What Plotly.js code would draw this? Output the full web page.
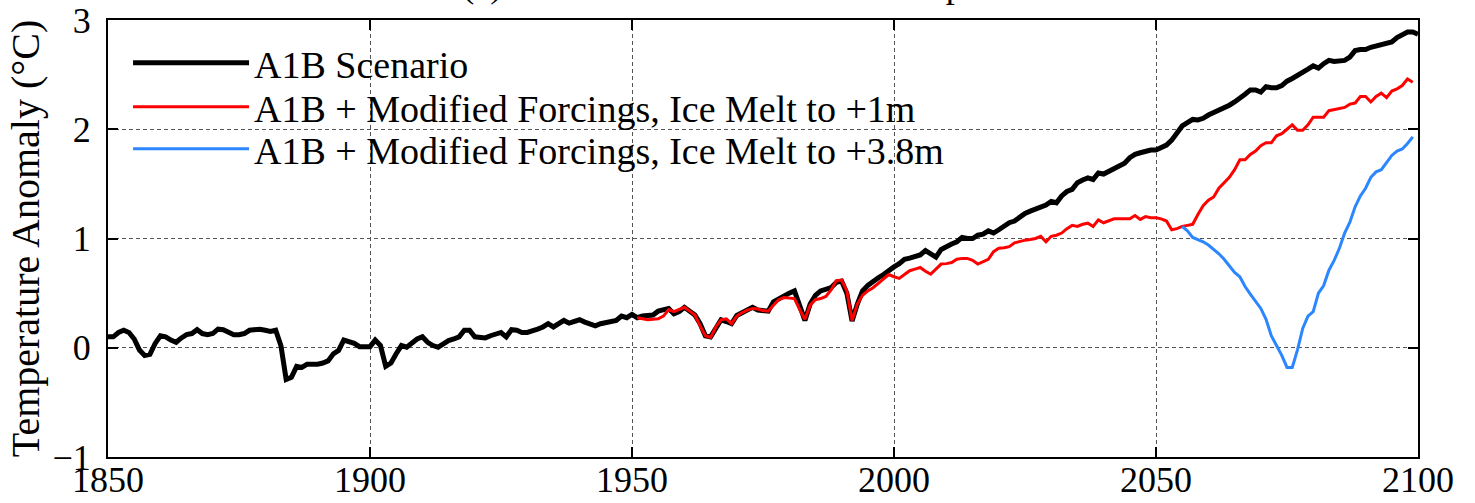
<!DOCTYPE html>
<html>
<head>
<meta charset="utf-8">
<script src="https://cdn.plot.ly/plotly-3.0.1.min.js"></script>
<style>html,body{margin:0;padding:0;background:#fff;}#chart{width:1475px;height:503px;}</style>
</head>
<body>
<div id="chart"></div>
<script>
// ---- data ----
const blackStart = 1850;
const blackValues = [
  0.10,0.10,0.14,0.16,0.14,0.08,-0.02,-0.07,-0.06,0.04,
  0.11,0.10,0.07,0.05,0.09,0.12,0.13,0.165,0.13,0.12,
  0.13,0.17,0.165,0.14,0.12,0.12,0.13,0.16,0.17,0.17,
  0.16,0.15,0.16,0.02,-0.29,-0.27,-0.17,-0.18,-0.15,-0.155,
  -0.15,-0.14,-0.12,-0.055,-0.025,0.07,0.06,0.04,0.01,0.01,
  0.01,0.07,0.02,-0.17,-0.14,-0.055,0.02,0.005,0.04,0.08,
  0.10,0.05,0.02,0.005,0.035,0.065,0.08,0.10,0.16,0.16,
  0.10,0.10,0.09,0.11,0.13,0.14,0.10,0.165,0.16,0.14,
  0.14,0.15,0.17,0.19,0.22,0.19,0.22,0.25,0.225,0.24,
  0.256,0.235,0.215,0.20,0.22,0.23,0.235,0.25,0.29,0.275,
  0.305,0.275,0.29,0.29,0.30,0.335,0.35,0.36,0.31,0.33,
  0.37,0.34,0.30,0.22,0.11,0.10,0.19,0.256,0.24,0.22,
  0.296,0.32,0.35,0.37,0.345,0.34,0.335,0.42,0.45,0.47,
  0.50,0.52,0.40,0.25,0.40,0.48,0.52,0.53,0.55,0.60,
  0.61,0.50,0.245,0.40,0.52,0.57,0.61,0.64,0.67,0.71,
  0.74,0.77,0.81,0.82,0.84,0.85,0.89,0.86,0.83,0.90,
  0.93,0.95,0.97,1.01,1.00,1.00,1.03,1.04,1.07,1.05,
  1.08,1.11,1.145,1.16,1.20,1.23,1.25,1.27,1.28,1.306,
  1.34,1.327,1.39,1.43,1.45,1.51,1.535,1.555,1.54,1.60,
  1.59,1.615,1.64,1.655,1.69,1.74,1.77,1.785,1.80,1.81,
  1.81,1.835,1.855,1.90,1.97,2.03,2.06,2.09,2.085,2.10,
  2.13,2.15,2.17,2.20,2.22,2.25,2.28,2.32,2.36,2.36,
  2.34,2.39,2.38,2.38,2.40,2.44,2.465,2.49,2.52,2.55,
  2.58,2.56,2.60,2.63,2.62,2.63,2.63,2.66,2.72,2.73,
  2.73,2.75,2.76,2.78,2.79,2.80,2.84,2.87,2.89,2.89,
  2.87
];
const redStart = 1951;
const redValues = [
  0.275,0.265,0.256,0.26,0.265,0.29,0.35,0.33,0.35,
  0.37,0.335,0.30,0.20,0.11,0.095,0.19,0.256,0.265,0.22,
  0.29,0.32,0.345,0.36,0.355,0.34,0.335,0.39,0.44,0.46,
  0.455,0.45,0.35,0.26,0.39,0.44,0.45,0.47,0.53,0.615,
  0.62,0.52,0.25,0.40,0.48,0.52,0.55,0.59,0.63,0.67,
  0.65,0.635,0.67,0.705,0.72,0.735,0.70,0.674,0.72,0.766,
  0.77,0.78,0.81,0.818,0.818,0.80,0.766,0.785,0.81,0.88,
  0.91,0.915,0.925,0.96,0.975,0.985,0.99,1.00,1.02,0.97,
  1.02,1.03,1.05,1.09,1.12,1.11,1.13,1.14,1.11,1.17,
  1.144,1.16,1.18,1.18,1.18,1.18,1.21,1.175,1.20,1.19,
  1.19,1.18,1.16,1.08,1.09,1.11,1.12,1.13,1.22,1.30,
  1.35,1.38,1.46,1.51,1.56,1.63,1.72,1.72,1.77,1.80,
  1.85,1.876,1.876,1.94,1.96,2.00,2.04,1.99,1.99,2.04,
  2.11,2.11,2.11,2.17,2.18,2.19,2.20,2.23,2.24,2.30,
  2.30,2.25,2.30,2.33,2.29,2.35,2.37,2.40,2.46,2.43
];
const blueStart = 2055;
const blueValues = [
  1.11,1.07,1.01,0.99,0.97,
  0.94,0.90,0.86,0.81,0.75,0.69,0.65,0.56,0.49,0.43,
  0.36,0.26,0.11,0.02,-0.07,-0.18,-0.18,-0.02,0.177,0.29,
  0.33,0.50,0.57,0.71,0.80,0.91,1.05,1.15,1.29,1.39,
  1.46,1.56,1.61,1.63,1.69,1.76,1.80,1.82,1.87,1.93
];
const seriesNames = [
  'A1B Scenario',
  'A1B + Modified Forcings, Ice Melt to +1m',
  'A1B + Modified Forcings, Ice Melt to +3.8m'
];
const xTickVals = [1850, 1900, 1950, 2000, 2050, 2100];
const yTickVals = [-1, 0, 1, 2, 3];
const titleText = '(a) Global Mean Surface Air Temperature';
const yTitleText = 'Temperature Anomaly (°C)';

function yearsFrom(start, n) { const a = []; for (let i = 0; i < n; i++) a.push(start + i); return a; }

const FONT = '"Liberation Serif", "Times New Roman", Times, serif';

const traces = [
  {x: yearsFrom(blackStart, blackValues.length), y: blackValues, name: seriesNames[0], type: 'scatter', mode: 'lines',
   line: {color: '#000000', width: 5}, legend: 'legend'},
  {x: yearsFrom(redStart, redValues.length), y: redValues, name: seriesNames[1], type: 'scatter', mode: 'lines',
   line: {color: '#ff0000', width: 3}, legend: 'legend2'},
  {x: yearsFrom(blueStart, blueValues.length), y: blueValues, name: seriesNames[2], type: 'scatter', mode: 'lines',
   line: {color: '#2b86ff', width: 3}, legend: 'legend3'}
];

function legendAt(yPaper) {
  return {x: 0.0153, xanchor: 'left', y: yPaper, yanchor: 'middle', bgcolor: 'rgba(0,0,0,0)', borderwidth: 0,
          font: {family: FONT, size: 38, color: '#000'}, itemwidth: 116, tracegroupgap: 0};
}

const axisCommon = {
  showline: true, linecolor: '#000', linewidth: 2, mirror: 'ticks',
  ticks: 'inside', ticklen: 10, tickwidth: 2, tickcolor: '#000',
  showgrid: true, gridcolor: '#555', gridwidth: 1, griddash: '4px,3px',
  zeroline: false, tickfont: {family: FONT, size: 36, color: '#000'}
};

const layout = {
  width: 1475, height: 503,
  margin: {l: 108, r: 57, t: 20, b: 46, pad: 0},
  paper_bgcolor: '#fff', plot_bgcolor: '#fff',
  font: {family: FONT, color: '#000'},
  title: {text: titleText, font: {family: FONT, size: 36, color: '#000'}, xref: 'paper', x: 0.5, xanchor: 'center',
          yref: 'container', y: 1, yanchor: 'bottom', pad: {b: 3}},
  xaxis: Object.assign({}, axisCommon, {range: [1850, 2100], tickmode: 'array', tickvals: xTickVals,
          ticklabelstandoff: -10}),
  yaxis: Object.assign({}, axisCommon, {range: [-1, 3], tickmode: 'array', tickvals: yTickVals,
          ticklabelstandoff: 8,
          title: {text: yTitleText, font: {family: FONT, size: 40, color: '#000'}, standoff: 0}}),
  showlegend: true,
  legend: legendAt(0.9016),
  legend2: legendAt(0.8009),
  legend3: legendAt(0.7048)
};

Plotly.newPlot('chart', traces, layout, {displayModeBar: false, staticPlot: true});
</script>
</body>
</html>
